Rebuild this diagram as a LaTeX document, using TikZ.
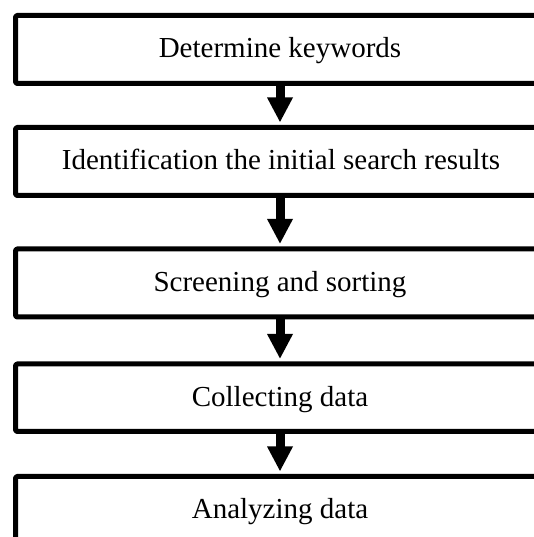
\documentclass[tikz,border=0pt]{standalone}
\usepackage{fontspec}
\setmainfont{Liberation Serif}
\usetikzlibrary{arrows.meta}
\begin{document}
\begin{tikzpicture}[x=1pt,y=1pt,
  stepbox/.style={draw=black, line width=5pt, rectangle, minimum width=529pt,
    minimum height=68pt, inner sep=0pt, line join=round, rounded corners=1.5pt},
  steptext/.style={inner sep=0pt, anchor=base, font=\fontsize{29}{34}\selectfont},
  flow/.style={line width=9pt, -{Triangle[width=24pt,length=25pt]}, shorten >=2.5pt}]
\useasboundingbox (0,0) rectangle (534,537);
\clip (0,0) rectangle (534,537);
\node[stepbox] (b1) at (280,487.5) {};
\node[stepbox] (b2) at (280,375.5) {};
\node[stepbox] (b3) at (280,254) {};
\node[stepbox, minimum height=67.5pt] (b4) at (280,139.25) {};
\node[stepbox] (b5) at (280,26.5) {};
\node[steptext] (t1) at (280,479) {Determine keywords};
\node[steptext] (t2) at (281,367) {Identification the initial search results};
\node[steptext] (t3) at (280,245) {Screening and sorting};
\node[steptext] (t4) at (280,130.5) {Collecting data};
\node[steptext] (t5) at (280,18) {Analyzing data};
\draw[flow] (b1.south) -- (b2.north);
\draw[flow] (b2.south) -- (b3.north);
\draw[flow] (b3.south) -- (b4.north);
\draw[flow] (b4.south) -- (b5.north);
\end{tikzpicture}
\end{document}
